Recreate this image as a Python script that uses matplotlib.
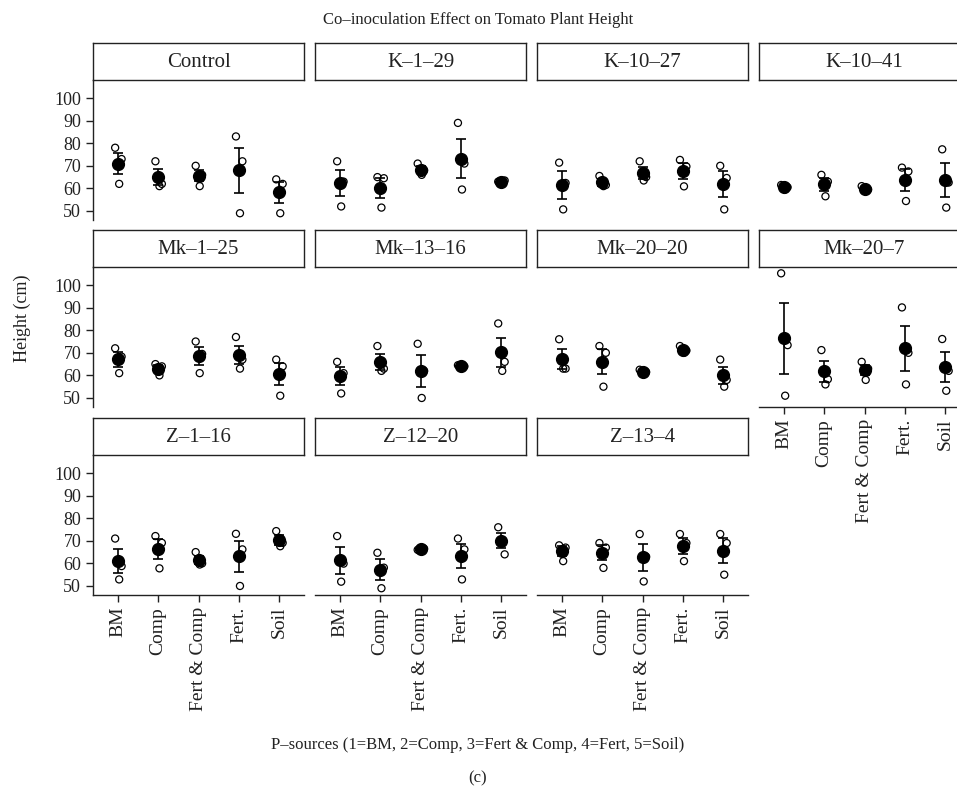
import numpy as np
import matplotlib.pyplot as plt

plt.rcParams['font.family'] = ['Liberation Serif', 'DejaVu Serif']

sources = ['BM', 'Comp', 'Fert & Comp', 'Fert.', 'Soil']
strains = ['Control', 'K–1–29', 'K–10–27', 'K–10–41',
           'Mk–1–25', 'Mk–13–16', 'Mk–20–20', 'Mk–20–7',
           'Z–1–16', 'Z–12–20', 'Z–13–4']
yticks = [50, 60, 70, 80, 90, 100]

# plant heights (cm), three plants per P-source: BM, Comp, Fert & Comp, Fert., Soil
control  = [[78, 73, 62], [72, 62, 61], [70, 66, 61], [83, 72, 49], [64, 62, 49]]
k_1_29   = [[72, 63, 52], [65, 64.5, 51.5], [71, 68, 66], [89, 71, 59.5], [63, 63.5, 62.5]]
k_10_27  = [[71.4, 62.4, 50.7], [65.5, 61.5, 61], [72, 65, 63.5], [72.6, 69.7, 60.9], [70, 64.6, 50.7]]
k_10_41  = [[61.5, 60.5, 59.5], [66, 63, 56.5], [61, 59.5, 59.3], [69.2, 67.5, 54.4], [77.3, 62.6, 51.5]]
mk_1_25  = [[72, 68.3, 61], [65, 64, 60], [75, 69.5, 61], [77, 67, 63], [67, 64, 51]]
mk_13_16 = [[66, 61, 52], [73, 63, 62], [74, 62, 50], [64.5, 64, 63.5], [83, 66, 62]]
mk_20_20 = [[76, 63, 63], [73, 70, 55], [62.5, 61.5, 60.5], [73, 71, 70], [67, 58, 55]]
mk_20_7  = [[105.2, 73.4, 51], [71.2, 58.3, 56], [66, 63, 58], [90.1, 70, 56], [76.1, 62, 53.2]]
z_1_16   = [[71, 58.8, 52.9], [72.1, 69.1, 57.8], [65, 60, 59.5], [73.1, 66.2, 50], [74.3, 69.1, 67.6]]
z_12_20  = [[72.1, 59.9, 51.9], [64.7, 58.1, 49], [66, 66.5, 66.2], [71, 66.2, 52.9], [76, 64, 70.3]]
z_13_4   = [[68, 67, 61], [69, 67, 58], [73, 63, 52], [73, 69, 61], [73, 69, 55]]

heights = [control, k_1_29, k_10_27, k_10_41, mk_1_25, mk_13_16,
           mk_20_20, mk_20_7, z_1_16, z_12_20, z_13_4]

W, H = 957, 793
fig = plt.figure(figsize=(W / 100, H / 100), dpi=100)


def box(x, y, w, h):
    # pixel box (from top-left) -> figure fraction
    return [x / W, 1 - (y + h) / H, w / W, h / H]


col_left = [93, 315, 537, 759]
row_top = [43, 230, 418]
panel_w, strip_h, panel_h = 211, 37, 140
jitter = np.array([-0.07, 0.09, 0.03])
xpos = np.arange(1, 6)

for i, (name, data) in enumerate(zip(strains, heights)):
    r, c = divmod(i, 4)
    x0, y0 = col_left[c], row_top[r]

    # strip label
    sax = fig.add_axes(box(x0, y0, panel_w, strip_h))
    sax.set_xticks([])
    sax.set_yticks([])
    for s in sax.spines.values():
        s.set_linewidth(1.0)
        s.set_color('#222222')
    sax.text(0.5, 0.47, name, ha='center', va='center', fontsize=15,
             color='#222222', transform=sax.transAxes)

    ax = fig.add_axes(box(x0, y0 + strip_h, panel_w, panel_h))
    ax.set_xlim(0.38, 5.62)
    ax.set_ylim(46, 108)
    ax.patch.set_alpha(0)

    arr = np.array(data, dtype=float)
    means = arr.mean(axis=1)
    se = arr.std(axis=1, ddof=1) / np.sqrt(arr.shape[1])

    ax.errorbar(xpos, means, yerr=se, fmt='o', color='black', ms=8.5,
                elinewidth=1.2, capsize=3.5, capthick=1.2, zorder=2)
    for k in range(5):
        ax.scatter(xpos[k] + jitter, arr[k], s=26, facecolors='none',
                   edgecolors='black', linewidths=0.9, zorder=3)

    for s in ['top', 'right']:
        ax.spines[s].set_visible(False)

    show_y = c == 0
    show_x = r == 2 or i == 7
    ax.spines['left'].set_visible(show_y)
    ax.spines['bottom'].set_visible(show_x)
    for s in ['left', 'bottom']:
        ax.spines[s].set_linewidth(1.0)
        ax.spines[s].set_color('#222222')

    if show_y:
        ax.set_yticks(yticks)
        ax.tick_params(axis='y', labelsize=13, length=5, width=1,
                       colors='#222222')
    else:
        ax.set_yticks([])
    if show_x:
        ax.set_xticks(xpos)
        ax.set_xticklabels(sources, rotation=90)
        ax.tick_params(axis='x', labelsize=14, length=5, width=1,
                       colors='#222222')
    else:
        ax.set_xticks([])

fig.text(478 / W, 1 - 20 / H, 'Co–inoculation Effect on Tomato Plant Height',
         ha='center', va='center', fontsize=12, color='#222222')
fig.text(22 / W, 1 - 318 / H, 'Height (cm)', rotation=90, ha='center',
         va='center', fontsize=13, color='#222222')
fig.text(478 / W, 1 - 745 / H,
         'P–sources (1=BM, 2=Comp, 3=Fert & Comp, 4=Fert, 5=Soil)',
         ha='center', va='center', fontsize=12, color='#222222')
fig.text(478 / W, 1 - 778 / H, '(c)', ha='center', va='center',
         fontsize=12, color='#222222')

fig.savefig('out.png', dpi=100)
